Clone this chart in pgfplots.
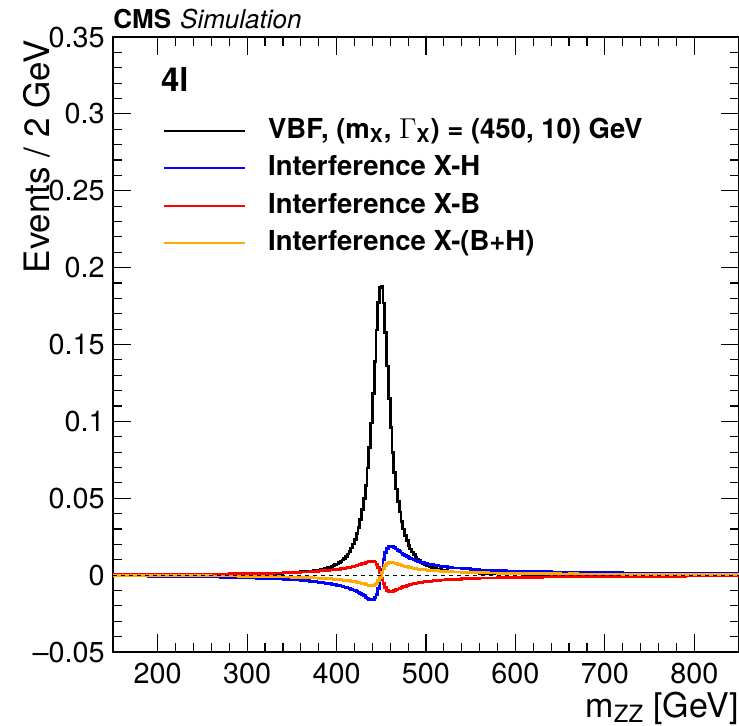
\documentclass[border=0pt]{standalone}
\usepackage{fontspec}
\setmainfont{TeX Gyre Heros}
\usepackage{pgfplots}
\pgfplotsset{compat=1.18}
\usepackage{pgfplotstable}
\usetikzlibrary{calc}
\definecolor{rootorange}{RGB}{255,170,0}
\begin{document}
\begin{tikzpicture}
\pgfplotstableread{
x black blue red orange
150 0.0002 -0.0005 0.0003 -0.0002
160 0.0002 -0.0005 0.0003 -0.0002
170 0.00022 -0.0006 0.0003 -0.0002
180 0.00024 -0.0006 0.0004 -0.0002
190 0.00026 -0.0007 0.0004 -0.0003
200 0.00028 -0.0007 0.0004 -0.0003
210 0.0003 -0.0008 0.0005 -0.0003
220 0.00033 -0.0009 0.0005 -0.0004
230 0.00036 -0.0010 0.0005 -0.0004
240 0.0004 -0.0010 0.0006 -0.0004
250 0.00044 -0.0011 0.0007 -0.0004
260 0.00048 -0.0012 0.0007 -0.0005
270 0.00054 -0.0014 0.0008 -0.0006
280 0.0006 -0.0015 0.0009 -0.0006
290 0.00068 -0.0016 0.0009 -0.0007
300 0.00078 -0.0018 0.0010 -0.0008
310 0.0009 -0.0020 0.0011 -0.0009
320 0.00105 -0.0022 0.0013 -0.0009
330 0.00125 -0.0025 0.0014 -0.0011
340 0.0015 -0.0028 0.0016 -0.0012
350 0.00178 -0.0032 0.0018 -0.0014
360 0.0022 -0.0037 0.0021 -0.0016
370 0.0026 -0.0040 0.0023 -0.0017
372 0.0027 -0.0041 0.0024 -0.0017
374 0.0028 -0.0042 0.0024 -0.0018
376 0.0030 -0.0044 0.0025 -0.0019
378 0.0032 -0.0045 0.0026 -0.0019
380 0.0034 -0.0047 0.0027 -0.0020
382 0.0036 -0.0048 0.0028 -0.0020
384 0.0038 -0.0050 0.0029 -0.0021
386 0.0042 -0.0051 0.0030 -0.0021
388 0.0045 -0.0054 0.0031 -0.0023
390 0.0048 -0.0055 0.0032 -0.0023
392 0.0052 -0.0057 0.0033 -0.0024
394 0.0056 -0.0059 0.0034 -0.0025
396 0.0061 -0.0061 0.0035 -0.0026
398 0.0067 -0.0063 0.0036 -0.0027
400 0.0073 -0.0066 0.0038 -0.0028
402 0.0080 -0.0068 0.0039 -0.0029
404 0.0088 -0.0071 0.0041 -0.0030
406 0.0098 -0.0074 0.0042 -0.0032
408 0.0109 -0.0077 0.0044 -0.0033
410 0.0123 -0.0080 0.0046 -0.0034
412 0.0138 -0.0084 0.0048 -0.0036
414 0.0156 -0.0088 0.0051 -0.0037
416 0.0177 -0.0092 0.0053 -0.0039
418 0.0203 -0.0097 0.0056 -0.0041
420 0.0234 -0.0102 0.0059 -0.0043
422 0.0270 -0.0108 0.0062 -0.0046
424 0.0312 -0.0114 0.0066 -0.0048
426 0.0364 -0.0121 0.0070 -0.0051
428 0.0426 -0.0128 0.0074 -0.0054
430 0.0500 -0.0135 0.0078 -0.0057
432 0.0582 -0.0143 0.0082 -0.0061
434 0.0697 -0.0150 0.0086 -0.0064
436 0.0830 -0.0156 0.0090 -0.0066
438 0.0990 -0.0160 0.0092 -0.0068
440 0.1180 -0.0158 0.0091 -0.0067
442 0.1390 -0.0148 0.0085 -0.0063
444 0.1595 -0.0124 0.0071 -0.0053
446 0.1775 -0.0085 0.0049 -0.0036
448 0.1870 -0.0030 0.0017 -0.0013
450 0.1875 0.0036 -0.0020 0.0016
452 0.1770 0.0100 -0.0056 0.0044
454 0.1580 0.0147 -0.0082 0.0065
456 0.1360 0.0175 -0.0098 0.0077
458 0.1150 0.0188 -0.0105 0.0083
460 0.0960 0.0190 -0.0106 0.0084
462 0.0800 0.0186 -0.0104 0.0082
464 0.0670 0.0179 -0.0100 0.0079
466 0.0560 0.0170 -0.0095 0.0075
468 0.0480 0.0161 -0.0090 0.0071
470 0.0410 0.0152 -0.0085 0.0067
472 0.0350 0.0144 -0.0080 0.0064
474 0.0300 0.0136 -0.0076 0.0060
476 0.0260 0.0128 -0.0072 0.0056
478 0.0225 0.0122 -0.0068 0.0054
480 0.0195 0.0115 -0.0064 0.0051
482 0.0170 0.0110 -0.0061 0.0049
484 0.0150 0.0105 -0.0058 0.0047
486 0.0133 0.0100 -0.0056 0.0044
488 0.0118 0.0095 -0.0053 0.0042
490 0.0105 0.0091 -0.0051 0.0040
492 0.0094 0.0088 -0.0049 0.0039
494 0.0085 0.0084 -0.0047 0.0037
496 0.0077 0.0081 -0.0045 0.0036
498 0.0070 0.0078 -0.0043 0.0035
500 0.0064 0.0075 -0.0042 0.0033
502 0.0059 0.0072 -0.0040 0.0032
504 0.0054 0.0070 -0.0039 0.0031
506 0.0050 0.0068 -0.0038 0.0030
508 0.0046 0.0066 -0.0037 0.0029
510 0.0043 0.0064 -0.0035 0.0029
512 0.0040 0.0062 -0.0034 0.0028
514 0.0037 0.0060 -0.0033 0.0027
516 0.0035 0.0058 -0.0032 0.0026
518 0.0033 0.0057 -0.0032 0.0025
520 0.0031 0.0055 -0.0031 0.0024
522 0.0029 0.0054 -0.0030 0.0024
524 0.0027 0.0052 -0.0029 0.0023
526 0.0026 0.0051 -0.0028 0.0023
528 0.0025 0.0050 -0.0028 0.0022
530 0.0021 0.0046 -0.0026 0.0020
540 0.0017 0.0041 -0.0023 0.0018
550 0.0014 0.0038 -0.0021 0.0017
560 0.0012 0.0034 -0.0019 0.0015
570 0.0010 0.0032 -0.0018 0.0014
580 0.0009 0.0029 -0.0016 0.0013
590 0.0008 0.0027 -0.0015 0.0012
600 0.0007 0.0026 -0.0014 0.0012
610 0.00062 0.0024 -0.0013 0.0011
620 0.00056 0.0023 -0.0013 0.0010
630 0.0005 0.0022 -0.0012 0.0010
640 0.00045 0.0020 -0.0011 0.0009
650 0.00041 0.0019 -0.0011 0.0008
660 0.00037 0.0019 -0.0010 0.0009
670 0.00034 0.0018 -0.0010 0.0008
680 0.00031 0.0017 -0.0009 0.0008
690 0.00029 0.0016 -0.0009 0.0007
700 0.00027 0.0016 -0.0009 0.0007
710 0.00025 0.0015 -0.0008 0.0007
720 0.00023 0.0014 -0.0008 0.0006
730 0.00021 0.0014 -0.0008 0.0006
740 0.0002 0.0014 -0.0008 0.0006
750 0.00019 0.0013 -0.0007 0.0006
760 0.00018 0.0013 -0.0007 0.0006
770 0.00017 0.0012 -0.0007 0.0005
780 0.00016 0.0012 -0.0007 0.0005
790 0.00015 0.0012 -0.0006 0.0006
800 0.00014 0.0011 -0.0006 0.0005
810 0.00013 0.0011 -0.0006 0.0005
820 0.00012 0.0011 -0.0006 0.0005
830 0.00012 0.0010 -0.0006 0.0004
840 0.00011 0.0010 -0.0006 0.0004
850 0.00011 0.0010 -0.0006 0.0004
}\data
\useasboundingbox (-56.5pt,-36.5pt) rectangle (313pt,326pt);
\begin{axis}[
  name=ax,
  at={(0,0)}, anchor=south west,
  scale only axis, width=313pt, height=307.5pt,
  xmin=150, xmax=850, ymin=-0.05, ymax=0.35,
  xtick={200,300,400,500,600,700,800},
  minor x tick num=4,
  ytick={-0.05,0,0.05,0.1,0.15,0.2,0.25,0.3,0.35},
  yticklabels={--0.05,0,0.05,0.1,0.15,0.2,0.25,0.3,0.35},
  minor y tick num=4,
  tick align=inside, tick pos=both,
  major tick length=9pt, minor tick length=4.5pt,
  axis line style={line width=1pt},
  every tick/.style={line width=0.6pt, black},
  /pgf/number format/assume math mode=true,
  ticklabel style={font=\fontsize{14.4}{16}\selectfont},
  xticklabel style={inner sep=0pt, yshift=-5.5pt},
  yticklabel style={inner sep=0pt, xshift=-4pt},
  legend style={at={(rel axis cs:0.0794,0.87)}, anchor=north west,
    draw=none, fill=none, inner sep=0pt, row sep=5.2pt, column sep=11pt,
    font=\bfseries\fontsize{13.75}{15}\selectfont,
    nodes={inner sep=0pt, text height=10.5pt, text depth=3pt}},
  legend cell align=left,
  legend image code/.code={\draw[#1, line width=1pt] (0pt,0pt) -- (40.5pt,0pt);},
]
\addplot[black, line width=1.4pt, const plot mark left] table[x=x, y=black] {\data};
\addlegendentry{VBF, (m\textsubscript{X}, {\mdseries$\Gamma$}\textsubscript{X}) = (450, 10) GeV}
\addplot[blue, line width=1.4pt, const plot mark left] table[x=x, y=blue] {\data};
\addlegendentry{Interference X-H}
\addplot[red, line width=1.4pt, const plot mark left] table[x=x, y=red] {\data};
\addlegendentry{Interference X-B}
\addplot[rootorange, line width=1.4pt, const plot mark left] table[x=x, y=orange] {\data};
\addlegendentry{Interference X-(B+H)}
\addplot[black, line width=0.5pt, dash pattern=on 2pt off 2pt, forget plot] coordinates {(150,0) (850,0)};
\end{axis}
\node[anchor=base west, inner sep=0pt] at ($(ax.north west)+(0pt,4.5pt)$)
  {\fontsize{13}{15}\selectfont\bfseries CMS\hspace{4.5pt}\mdseries\itshape Simulation};
\node[anchor=base west, inner sep=0pt, font=\bfseries\fontsize{16.5}{18}\selectfont]
  at ($(ax.north west)+(23.85pt,-27.35pt)$) {4l};
\node[rotate=90, anchor=base east, inner sep=0pt, font=\fontsize{17.5}{19}\selectfont]
  at ($(ax.north west)+(-31.5pt,-1.5pt)$) {Events / 2 GeV};
\node[anchor=base east, inner sep=0pt, font=\fontsize{17}{19}\selectfont]
  at ($(ax.south east)+(0pt,-32.5pt)$) {m\textsubscript{ZZ} [GeV]};
\end{tikzpicture}
\end{document}
